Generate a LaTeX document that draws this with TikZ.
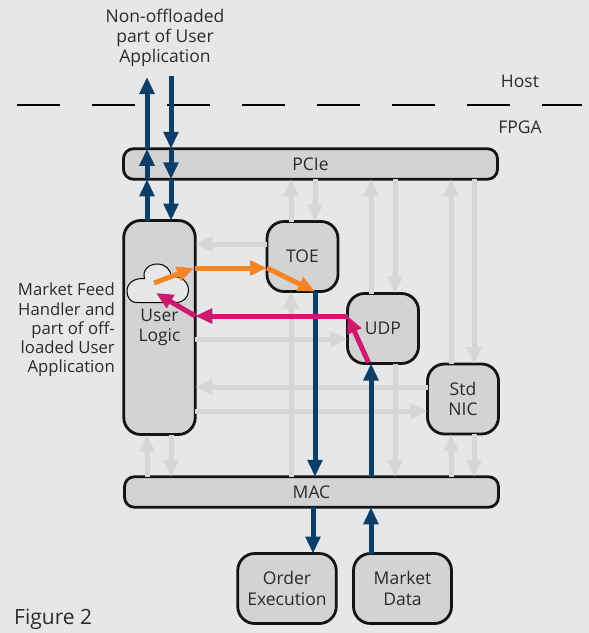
\documentclass[tikz,border=0pt]{standalone}
\usepackage{fontspec}
\setmainfont{Open Sans}
\usetikzlibrary{arrows.meta}
\definecolor{bg}{HTML}{E6E7E9}
\definecolor{boxfill}{HTML}{D3D3D3}
\definecolor{ghost}{HTML}{D5D6D8}
\definecolor{navy}{HTML}{0B3F68}
\definecolor{orangeflow}{HTML}{F58426}
\definecolor{pinkflow}{HTML}{CE1A6E}
\definecolor{ink}{HTML}{2B2B2B}
\tikzset{
  every node/.style={text=ink,font=\fontsize{17.5}{20.5}\selectfont},
  block/.style={draw=black!92,line width=2.8pt,fill=boxfill,rounded corners=17pt,inner sep=0pt,outer sep=0pt,align=center},
  bus/.style={block,rounded corners=10pt},
  label/.style={inner sep=0pt,align=center},
  flow/.style={line width=5pt,-{Triangle[length=17pt,width=14.5pt]}},
  ghostflow/.style={flow,draw=ghost},
  navyflow/.style={flow,draw=navy},
  orangearrow/.style={flow,draw=orangeflow},
  pinkarrow/.style={flow,draw=pinkflow},
}
\begin{document}
\begin{tikzpicture}[x=1pt,y=-1pt]
\useasboundingbox (0,0) rectangle (589,633);
\fill[bg] (0,0) rectangle (589,633);
\draw[black,line width=2pt,dash pattern=on 42.5pt off 32.5pt] (17,105) -- (582,105);

% column and row guides
\foreach \n/\v in {a/147,b/171,c/291,d/315,e/371,f/395,g/451,h/474,m/313}
  \coordinate (col\n) at (\v,0);
\foreach \n/\v in {p/244,q/268,r/316,s/339,t/387,u/411}
  \coordinate (row\n) at (0,\v);
\coordinate (hostUp) at (147,77);
\coordinate (hostDown) at (171,76);

% boxes
\node[bus,minimum width=374pt,minimum height=30.5pt] (pcie) at (310.5,164) {PCIe};
\node[block,minimum width=71.5pt,minimum height=214pt] (user) at (159.5,327.5) {User\\Logic};
\node[block,minimum width=71pt,minimum height=70pt] (toe) at (302.5,256.5) {TOE};
\node[block,minimum width=71pt,minimum height=70pt] (udp) at (383,328.5) {UDP};
\node[block,minimum width=71pt,minimum height=70pt] (nic) at (463,399) {Std\\NIC};
\node[bus,minimum width=374pt,minimum height=30.5pt] (mac) at (311.5,492) {MAC};
\node[block,minimum width=98.5pt,minimum height=70pt] (order) at (287,588.5) {Order\\Execution};
\node[block,minimum width=98pt,minimum height=70pt] (market) at (402.5,588.5) {Market\\Data};

% grey connectors
\draw[ghostflow] (colc |- toe.north) -- (colc |- pcie.south);
\draw[ghostflow] (cold |- pcie.south) -- (cold |- toe.north);
\draw[ghostflow] (cole |- udp.north) -- (cole |- pcie.south);
\draw[ghostflow] (colf |- pcie.south) -- (colf |- udp.north);
\draw[ghostflow] (colg |- nic.north) -- (colg |- pcie.south);
\draw[ghostflow] (colh |- pcie.south) -- (colh |- nic.north);
\draw[ghostflow] (colc |- mac.north) -- (colc |- toe.south);
\draw[ghostflow] (colf |- udp.south) -- (colf |- mac.north);
\draw[ghostflow] (colg |- mac.north) -- (colg |- nic.south);
\draw[ghostflow] (colh |- nic.south) -- (colh |- mac.north);
\draw[ghostflow] (cola |- mac.north) -- (cola |- user.south);
\draw[ghostflow] (colb |- user.south) -- (colb |- mac.north);
\draw[ghostflow] (toe.west |- rowp) -- (user.east |- rowp);
\draw[ghostflow] (user.east |- rows) -- (udp.west |- rows);
\draw[ghostflow] (nic.west |- rowt) -- (user.east |- rowt);
\draw[ghostflow] (user.east |- rowu) -- (nic.west |- rowu);

% cloud
\coordinate (cloudOut) at (154,283);
\coordinate (cloudOutTip) at (194,268);
\coordinate (cloudIn) at (156,293);
\draw[black,line width=1pt,fill=bg]
  (137,302.5) .. controls (130,302.5) and (127,297) .. (127,291)
  .. controls (127,283) and (134,278) .. (144.5,278.5)
  .. controls (142,270) and (149,264) .. (157,264)
  .. controls (165,264) and (171,269) .. (171,277)
  .. controls (182,275) and (189,283) .. (188.5,291)
  .. controls (188,297) and (184,302.5) .. (176,302.5) -- cycle;

% navy connectors
\draw[navyflow] (user.north -| hostUp) -- (pcie.south -| hostUp);
\draw[navyflow] (pcie.south -| hostUp) -- (pcie.north -| hostUp);
\draw[navyflow] (pcie.north -| hostUp) -- (hostUp);
\draw[navyflow] (hostDown) -- (pcie.north -| hostDown);
\draw[navyflow] (pcie.north -| hostDown) -- (pcie.south -| hostDown);
\draw[navyflow] (pcie.south -| hostDown) -- (user.north -| hostDown);
\draw[navyflow] (cold |- toe.south) -- (cold |- mac.north);
\draw[navyflow] (cole |- mac.north) -- (cole |- udp.south);
\draw[navyflow] (colm |- mac.south) -- (colm |- order.north);
\draw[navyflow] (cole |- market.north) -- (cole |- mac.south);

% application flows
\draw[orangearrow] (cloudOut) -- (cloudOutTip);
\draw[orangearrow] (user.east |- rowq) -- (toe.west |- rowq);
\draw[orangearrow] (toe.west |- rowq) -- (toe.south -| cold);
\draw[pinkarrow] (udp.west |- rowr) -- (user.east |- rowr);
\draw[pinkarrow] (user.east |- rowr) -- (cloudIn);
\draw[pinkarrow] (368.5,362.5) -- (udp.west |- rowr);

% free labels
\node[label,font=\fontsize{17.5}{20}\selectfont] (app) at (165,38) {Non-offloaded\\part of User\\Application};
\node[label] (host) at (520,81) {Host};
\node[label] (fpga) at (520,127) {FPGA};
\node[label,align=right,anchor=east,font=\fontsize{16.7}{19.3}\selectfont] (feed) at (115,330) {Market Feed\\Handler and\\part of off-\\loaded User\\Application};
\node[label,anchor=west,font=\fontsize{21}{24}\selectfont] (fig) at (14,619) {Figure 2};
\end{tikzpicture}
\end{document}
